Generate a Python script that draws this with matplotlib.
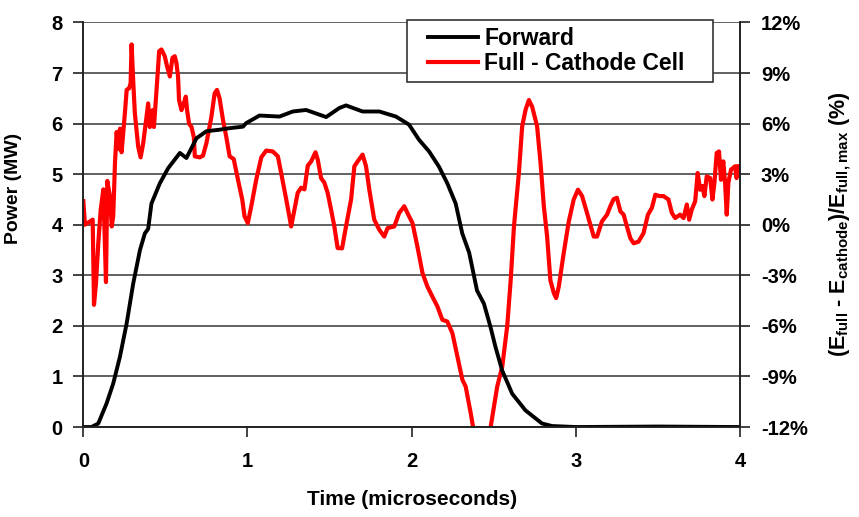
#!/usr/bin/env python3
"""
Forward power and full - cathode cell energy difference vs. time.
"""

import matplotlib
matplotlib.use("Agg")
import matplotlib.pyplot as plt
from matplotlib.patches import Rectangle

# Forward power (MW), left axis
fwd_time = [0.000, 0.050, 0.091, 0.142, 0.182, 0.223, 0.264, 0.304, 0.345,
            0.375, 0.395, 0.415, 0.466, 0.517, 0.588, 0.628, 0.689, 0.750,
            0.830, 0.891, 0.972, 0.992, 1.073, 1.195, 1.276, 1.357, 1.479,
            1.560, 1.600, 1.701, 1.803, 1.904, 1.984, 2.045, 2.106, 2.166,
            2.217, 2.268, 2.308, 2.350, 2.398, 2.440, 2.480, 2.510, 2.551,
            2.612, 2.693, 2.794, 2.855, 3.000, 3.500, 4.000]
fwd_power = [0.00, 0.00, 0.07, 0.47, 0.86, 1.39, 2.05, 2.84, 3.50,
             3.83, 3.92, 4.42, 4.82, 5.12, 5.42, 5.32, 5.71, 5.85,
             5.88, 5.91, 5.94, 6.01, 6.16, 6.14, 6.24, 6.27, 6.13,
             6.31, 6.36, 6.24, 6.24, 6.14, 5.98, 5.68, 5.45, 5.15,
             4.82, 4.42, 3.83, 3.45, 2.70, 2.44, 1.98, 1.59, 1.12,
             0.66, 0.33, 0.07, 0.02, 0.00, 0.01, 0.00]

# (E_full - E_cathode)/E_full,max in percent, right axis
diff_time = [0.000, 0.010, 0.057, 0.065, 0.077, 0.091, 0.106, 0.122, 0.138,
             0.146, 0.162, 0.173, 0.182, 0.193, 0.203, 0.213, 0.223, 0.233,
             0.253, 0.264, 0.279, 0.288, 0.294, 0.304, 0.314, 0.334, 0.349,
             0.365, 0.385, 0.395, 0.405, 0.422, 0.430, 0.446, 0.462, 0.476,
             0.496, 0.510, 0.527, 0.543, 0.557, 0.567, 0.577, 0.583, 0.598,
             0.612, 0.624, 0.632, 0.644, 0.659, 0.673, 0.679, 0.709, 0.729,
             0.750, 0.780, 0.800, 0.814, 0.830, 0.851, 0.871, 0.891, 0.916,
             0.942, 0.968, 0.982, 1.002, 1.023, 1.053, 1.084, 1.114, 1.154,
             1.185, 1.205, 1.236, 1.266, 1.286, 1.306, 1.327, 1.347, 1.367,
             1.388, 1.414, 1.428, 1.448, 1.468, 1.488, 1.509, 1.529, 1.549,
             1.576, 1.600, 1.631, 1.651, 1.671, 1.701, 1.722, 1.742, 1.772,
             1.803, 1.833, 1.853, 1.894, 1.924, 1.955, 1.974, 2.005, 2.035,
             2.066, 2.096, 2.126, 2.157, 2.187, 2.217, 2.248, 2.278, 2.309,
             2.329, 2.360, 2.374, 2.428, 2.481, 2.521, 2.552, 2.582, 2.603,
             2.623, 2.653, 2.673, 2.694, 2.714, 2.734, 2.764, 2.785, 2.805,
             2.825, 2.845, 2.866, 2.880, 2.896, 2.926, 2.957, 2.987, 3.013,
             3.038, 3.068, 3.109, 3.129, 3.159, 3.190, 3.210, 3.230, 3.250,
             3.271, 3.291, 3.311, 3.332, 3.352, 3.382, 3.412, 3.439, 3.463,
             3.484, 3.510, 3.534, 3.564, 3.585, 3.605, 3.635, 3.656, 3.676,
             3.690, 3.706, 3.727, 3.742, 3.757, 3.771, 3.783, 3.797, 3.818,
             3.832, 3.844, 3.858, 3.872, 3.884, 3.898, 3.909, 3.919, 3.929,
             3.945, 3.970, 3.979, 3.990]
diff_pct = [1.4, 0.0, 0.3, -4.75, -3.5, -1.1, 0.9, 2.1, -3.4,
            2.6, 1.7, -0.1, 0.5, 3.7, 5.5, 4.5, 5.7, 4.3,
            6.6, 8.0, 8.1, 8.4, 10.7, 8.5, 6.6, 4.65, 4.0,
            4.85, 6.4, 7.2, 5.8, 6.8, 5.8, 8.0, 10.3, 10.4,
            10.0, 9.4, 8.8, 9.9, 10.0, 9.6, 8.8, 7.4, 6.8,
            7.2, 7.6, 6.8, 6.0, 5.8, 5.2, 4.06, 4.0, 4.1,
            4.85, 6.4, 7.8, 8.0, 7.5, 6.2, 5.2, 4.06, 3.9,
            2.67, 1.5, 0.5, 0.1, 1.1, 2.67, 4.0, 4.4, 4.35,
            4.06, 3.07, 1.5, -0.1, 0.9, 1.9, 2.2, 2.1, 3.5,
            3.76, 4.3, 3.86, 2.77, 2.5, 1.9, 0.9, -0.1, -1.38,
            -1.4, -0.1, 1.5, 3.47, 3.76, 4.16, 3.47, 2.08, 0.3,
            -0.3, -0.7, -0.2, -0.1, 0.7, 1.1, 0.7, 0.1, -1.3,
            -2.87, -3.67, -4.26, -4.85, -5.64, -5.74, -6.43, -7.8, -9.2,
            -9.6, -11.2, -12.0, -14.0, -12.0, -9.6, -8.4, -6.0, -3.3,
            -0.1, 3.07, 5.84, 6.83, 7.4, 7.0, 5.84, 3.66, 1.1,
            -0.7, -3.3, -4.06, -4.35, -3.67, -1.68, 0.2, 1.5, 2.08,
            1.7, 0.7, -0.7, -0.7, 0.2, 0.6, 1.1, 1.52, 1.6,
            0.8, 0.6, -0.1, -0.8, -1.1, -1.0, -0.5, 0.6, 1.0,
            1.78, 1.7, 1.7, 1.5, 0.7, 0.4, 0.6, 0.4, 1.2,
            0.3, 0.9, 1.4, 3.07, 2.08, 2.3, 1.7, 2.87, 2.77,
            1.5, 2.5, 4.26, 4.35, 2.67, 3.76, 2.5, 0.6, 2.5,
            3.27, 3.47, 2.77, 3.47]

left_ticks = [0, 1, 2, 3, 4, 5, 6, 7, 8]
right_ticks = [-12, -9, -6, -3, 0, 3, 6, 9, 12]
x_ticks = [0, 1, 2, 3, 4]

plt.rcParams["font.family"] = ["Liberation Sans", "DejaVu Sans"]
plt.rcParams["font.weight"] = "bold"
plt.rcParams["axes.labelweight"] = "bold"
plt.rcParams["mathtext.fontset"] = "custom"
plt.rcParams["mathtext.rm"] = "Liberation Sans:bold"

W, H = 859, 517
fig = plt.figure(figsize=(W / 100, H / 100), dpi=100)
ax2 = fig.add_axes([0.097, 0.174, 0.7645, 0.7825])
ax = ax2.twinx()  # holds the forward power, drawn on top
ax.yaxis.tick_left()
ax.yaxis.set_label_position("left")
ax2.yaxis.tick_right()
ax2.yaxis.set_label_position("right")
ax.set_zorder(2)
ax.patch.set_visible(False)

grid_col = "#474747"
ax2.set_ylim(-12, 12)
ax2.set_yticks(right_ticks)
ax2.yaxis.grid(True, color=grid_col, lw=1.2)
ax2.set_axisbelow(True)

line_r, = ax2.plot(diff_time, diff_pct, color="red", lw=3.0,
                   label="Full - Cathode Cell")
line_f, = ax.plot(fwd_time, fwd_power, color="black", lw=2.8,
                  label="Forward")

ax2.set_xlim(0, 4)
ax.set_ylim(0, 8)
ax2.set_xticks(x_ticks)
ax.set_yticks(left_ticks)
ax2.set_yticklabels([f"{v}%" for v in right_ticks])

for a in (ax, ax2):
    a.spines["top"].set_visible(False)
    for s in ("left", "right", "bottom"):
        a.spines[s].set_color("#222222")
        a.spines[s].set_linewidth(1.2)
ax.tick_params(axis="y", direction="out", length=7, width=1.2,
               colors="#222222", labelcolor="black", labelsize=14.5, pad=8)
ax2.tick_params(axis="x", direction="out", length=7, width=1.2,
                colors="#222222", labelcolor="black", labelsize=14.5, pad=11)
ax2.tick_params(axis="y", direction="out", length=7, width=1.2,
                colors="#222222", labelcolor="black", labelsize=14.5, pad=8)

ax.set_ylabel("Power (MW)", fontsize=14, fontweight="bold")
ax.yaxis.set_label_coords(-0.093, 0.59)
ax2.set_xlabel("Time (microseconds)", fontsize=15, fontweight="bold",
               labelpad=14)
ax2.set_ylabel(r"(E$_{\mathregular{full}}$ - E$_{\mathregular{cathode}}$)"
               r"/E$_{\mathregular{full,max}}$ (%)", fontsize=15.5,
               fontweight="bold")
ax2.yaxis.set_label_coords(1.132, 0.5)

# legend box, overlapping the top edge of the plot
box = Rectangle((406.5 / W, 1 - 82 / H), 306.5 / W, 62 / H,
                transform=fig.transFigure, facecolor="white",
                edgecolor="#333333", lw=1.2, zorder=4)
fig.patches.append(box)
fig.legend(handles=[line_f, line_r], loc="center left",
           bbox_to_anchor=(428 / W, 1 - 51 / H), fontsize=16.5,
           frameon=False, handlelength=2.2, handletextpad=0.25,
           borderpad=0, labelspacing=0.1, borderaxespad=0)

fig.savefig("out.png", dpi=100)
